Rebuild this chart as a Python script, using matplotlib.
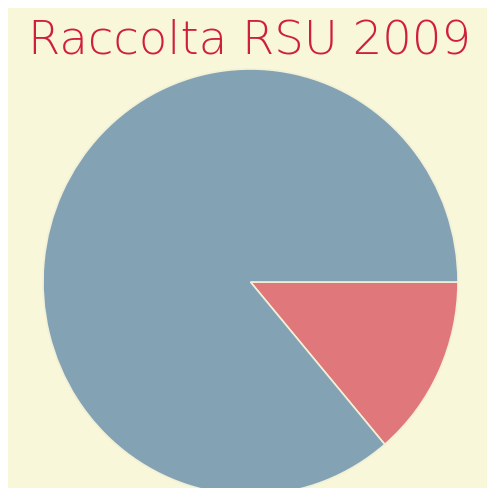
import matplotlib
matplotlib.use("Agg")
import matplotlib.pyplot as plt
from matplotlib.patches import Rectangle

title = "Raccolta RSU 2009"
labels = ["Differenziata", "Indifferenziata"]
values = [13.8, 86.2]
colors = ["#e0777a", "#83a3b5"]

W, H = 487, 488
fig = plt.figure(figsize=(W / 100, H / 100), dpi=100, facecolor="white")
fig.patches.append(Rectangle((8 / W, 0), (W - 8) / W, (H - 8) / H,
                             transform=fig.transFigure, facecolor="#f8f7da",
                             edgecolor="none", zorder=-10))

ax = fig.add_axes([43 / W, -7 / H, 415 / W, 426 / H])
ax.set_zorder(5)
ax.pie(values, colors=colors, startangle=0, counterclock=False, radius=1,
       wedgeprops=dict(edgecolor="#f2f0d6", linewidth=1.2))
ax.set_aspect("auto")
ax.set_xlim(-1, 1)
ax.set_ylim(-1, 1)
ax.axis("off")
for p in ax.patches:
    p.set_clip_on(False)

fig.text(250 / W, 1 - 54 / H, title, ha="center", va="baseline",
         fontsize=33.5, color="#d01f3c", family="DejaVu Sans", fontweight=200,
         zorder=10)

fig.savefig("out.png", dpi=100, facecolor="white")
